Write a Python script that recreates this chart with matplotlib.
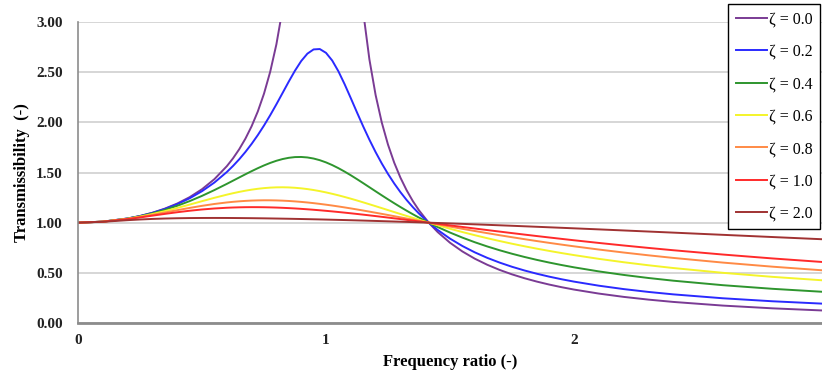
import numpy as np
import matplotlib
matplotlib.use("Agg")
import matplotlib.pyplot as plt

nan = float("nan")

# Frequency ratio (x)
r = [0, 0.1, 0.2, 0.25, 0.3, 0.35, 0.4, 0.45, 0.5, 0.55,
     0.6, 0.625, 0.65, 0.675, 0.7, 0.725, 0.75, 0.775, 0.8, 0.825,
     0.85, 0.875, 0.9, 0.925, 0.95, 0.975, 1.0, 1.025, 1.05, 1.075,
     1.1, 1.125, 1.15, 1.175, 1.2, 1.225, 1.25, 1.275, 1.3, 1.325,
     1.35, 1.375, 1.4142, 1.45, 1.5, 1.55, 1.6, 1.65, 1.7, 1.75,
     1.8, 1.85, 1.9, 1.95, 2.0, 2.1, 2.2, 2.3, 2.4, 2.6,
     2.8, 3.0]

t_z00 = [1.0, 1.0101, 1.0417, 1.0667, 1.0989, 1.1396, 1.1905, 1.2539, 1.3333, 1.4337,
         1.5625, 1.6410, 1.7316, 1.8370, 1.9608, 2.1080, 2.2857, 2.5039, 2.7778, 3.1311,
         3.6036, 4.2667, 5.2632, 6.9264, 10.256, 20.25, nan, 19.753, 9.7561, 6.4257,
         4.7619, 3.7647, 3.1008, 2.6273, 2.2727, 1.9975, 1.7778, 1.5984, 1.4493, 1.3234,
         1.2158, 1.1228, 1.0, 0.9070, 0.8, 0.7130, 0.6410, 0.5806, 0.5291, 0.4848,
         0.4464, 0.4128, 0.3831, 0.3568, 0.3333, 0.2933, 0.2604, 0.2331, 0.2101, 0.1736,
         0.1462, 0.125]
t_z02 = [1.0, 1.0101, 1.0414, 1.0659, 1.0973, 1.1364, 1.1843, 1.2428, 1.3138, 1.4000,
         1.5046, 1.5650, 1.6315, 1.7046, 1.7849, 1.8727, 1.9681, 2.0708, 2.1798, 2.2930,
         2.4067, 2.5152, 2.6110, 2.6846, 2.7268, 2.7304, 2.6926, 2.6162, 2.5088, 2.3804,
         2.2409, 2.0985, 1.9593, 1.8270, 1.7035, 1.5897, 1.4856, 1.3907, 1.3045, 1.2262,
         1.1551, 1.0903, 1.0, 0.9280, 0.8411, 0.7673, 0.7041, 0.6495, 0.6021, 0.5604,
         0.5237, 0.4911, 0.4620, 0.4360, 0.4125, 0.3719, 0.3381, 0.3097, 0.2855, 0.2465,
         0.2166, 0.1931]
t_z04 = [1.0, 1.0100, 1.0406, 1.0639, 1.0927, 1.1274, 1.1681, 1.2147, 1.2671, 1.3248,
         1.3865, 1.4184, 1.4504, 1.4822, 1.5132, 1.5428, 1.5705, 1.5954, 1.6169, 1.6341,
         1.6465, 1.6536, 1.6548, 1.6500, 1.6392, 1.6227, 1.6008, 1.5741, 1.5433, 1.5091,
         1.4724, 1.4337, 1.3938, 1.3533, 1.3127, 1.2723, 1.2326, 1.1938, 1.1560, 1.1195,
         1.0842, 1.0503, 1.0, 0.9570, 0.9015, 0.8509, 0.8050, 0.7631, 0.7250, 0.6902,
         0.6584, 0.6292, 0.6024, 0.5777, 0.5549, 0.5143, 0.4792, 0.4486, 0.4218, 0.3769,
         0.3408, 0.3113]
t_z06 = [1.0, 1.0100, 1.0393, 1.0606, 1.0860, 1.1149, 1.1465, 1.1800, 1.2142, 1.2477,
         1.2791, 1.2935, 1.3067, 1.3186, 1.3290, 1.3376, 1.3444, 1.3493, 1.3520, 1.3527,
         1.3513, 1.3478, 1.3422, 1.3347, 1.3254, 1.3143, 1.3017, 1.2877, 1.2725, 1.2562,
         1.2390, 1.2211, 1.2025, 1.1836, 1.1643, 1.1449, 1.1253, 1.1058, 1.0863, 1.0670,
         1.0479, 1.0290, 1.0, 0.9743, 0.9396, 0.9065, 0.8751, 0.8452, 0.8170, 0.7902,
         0.7649, 0.7410, 0.7184, 0.6970, 0.6768, 0.6394, 0.6058, 0.5755, 0.5480, 0.5002,
         0.4600, 0.4259]
t_z08 = [1.0, 1.0098, 1.0376, 1.0567, 1.0781, 1.1010, 1.1243, 1.1469, 1.1678, 1.1863,
         1.2015, 1.2077, 1.2128, 1.2170, 1.2201, 1.2220, 1.2230, 1.2228, 1.2216, 1.2194,
         1.2162, 1.2120, 1.2070, 1.2012, 1.1946, 1.1872, 1.1792, 1.1707, 1.1616, 1.1520,
         1.1420, 1.1317, 1.1210, 1.1101, 1.0990, 1.0877, 1.0763, 1.0647, 1.0531, 1.0415,
         1.0298, 1.0182, 1.0, 0.9835, 0.9608, 0.9386, 0.9168, 0.8956, 0.8749, 0.8550,
         0.8356, 0.8168, 0.7987, 0.7812, 0.7643, 0.7323, 0.7025, 0.6747, 0.6488, 0.6022,
         0.5614, 0.5255]
t_z10 = [1.0, 1.0097, 1.0356, 1.0523, 1.0699, 1.0874, 1.1040, 1.1188, 1.1314, 1.1413,
         1.1486, 1.1511, 1.1530, 1.1542, 1.1547, 1.1545, 1.1538, 1.1524, 1.1505, 1.1480,
         1.1450, 1.1416, 1.1376, 1.1333, 1.1286, 1.1235, 1.1180, 1.1123, 1.1063, 1.1000,
         1.0935, 1.0868, 1.0799, 1.0728, 1.0656, 1.0582, 1.0508, 1.0432, 1.0356, 1.0279,
         1.0201, 1.0123, 1.0, 0.9887, 0.9730, 0.9573, 0.9417, 0.9263, 0.9111, 0.8960,
         0.8812, 0.8666, 0.8524, 0.8384, 0.8246, 0.7980, 0.7726, 0.7484, 0.7253, 0.6824,
         0.6435, 0.6083]
t_z20 = [1.0, 1.0087, 1.0248, 1.0317, 1.0372, 1.0413, 1.0441, 1.0459, 1.0468, 1.0471,
         1.0468, 1.0464, 1.0459, 1.0453, 1.0447, 1.0439, 1.0431, 1.0421, 1.0411, 1.0400,
         1.0389, 1.0377, 1.0364, 1.0351, 1.0337, 1.0323, 1.0308, 1.0292, 1.0276, 1.0260,
         1.0243, 1.0226, 1.0209, 1.0190, 1.0172, 1.0153, 1.0134, 1.0115, 1.0095, 1.0075,
         1.0054, 1.0033, 1.0, 0.9969, 0.9925, 0.9880, 0.9833, 0.9786, 0.9738, 0.9690,
         0.9640, 0.9590, 0.9539, 0.9488, 0.9436, 0.9331, 0.9224, 0.9116, 0.9008, 0.8788,
         0.8568, 0.8349]

series = [t_z00, t_z02, t_z04, t_z06, t_z08, t_z10, t_z20]
labels = ["ζ = 0.0", "ζ = 0.2", "ζ = 0.4", "ζ = 0.6", "ζ = 0.8", "ζ = 1.0", "ζ = 2.0"]
colors = ["#7A3B94", "#2A2AFF", "#2E952E", "#F4F42A", "#FF8A45", "#FF2A2A", "#A03232"]

x_ticks = [0, 1, 2]
y_ticks = [0.0, 0.5, 1.0, 1.5, 2.0, 2.5, 3.0]

fig = plt.figure(figsize=(8.22, 3.76), dpi=100)
ax = fig.add_axes([78/822, (376-323)/376, (822-78)/822, (323-22)/376])

for y, lab, c in zip(series, labels, colors):
    ax.plot(r, y, color=c, lw=1.4, label=lab, solid_joinstyle="round")

ax.set_xlim(0, 3)
ax.set_ylim(0, 3)
ax.set_xticks(x_ticks)
ax.set_xticklabels([str(v) for v in x_ticks])
ax.set_yticks(y_ticks)
ax.set_yticklabels([f"{v:.2f}" for v in y_ticks])
ax.yaxis.grid(True, color="#D0D0D0", lw=1.2)
ax.set_axisbelow(True)
ax.tick_params(length=0, labelsize=11, colors="#222222")
ax.tick_params(axis="x", pad=8)
ax.tick_params(axis="y", pad=11)
for lab in ax.get_xticklabels() + ax.get_yticklabels():
    lab.set_fontfamily("Liberation Serif")
    lab.set_fontweight("bold")

for s in ["top", "right"]:
    ax.spines[s].set_visible(False)
ax.spines["left"].set_color("#8C8C8C")
ax.spines["left"].set_linewidth(1.2)
ax.spines["bottom"].set_color("#8C8C8C")
ax.spines["bottom"].set_linewidth(2.0)

ax.set_xlabel("Frequency ratio (-)", fontfamily="Liberation Serif", fontweight="bold",
              fontsize=12, labelpad=5)
ax.set_ylabel("Transmissibility  (-)", fontfamily="Liberation Serif", fontweight="bold",
              fontsize=12, labelpad=4)

leg = ax.legend(loc="upper right", bbox_to_anchor=(820/822, 1 - 4/376),
                bbox_transform=fig.transFigure, frameon=True, fancybox=False,
                prop={"family": "Liberation Serif", "size": 11.5},
                handlelength=1.95, handletextpad=0.15, labelspacing=1.03,
                borderpad=0.45, borderaxespad=0)
leg.get_frame().set_edgecolor("black")
leg.get_frame().set_linewidth(1.0)
leg.get_frame().set_alpha(1)

fig.savefig("out.png", dpi=100)
